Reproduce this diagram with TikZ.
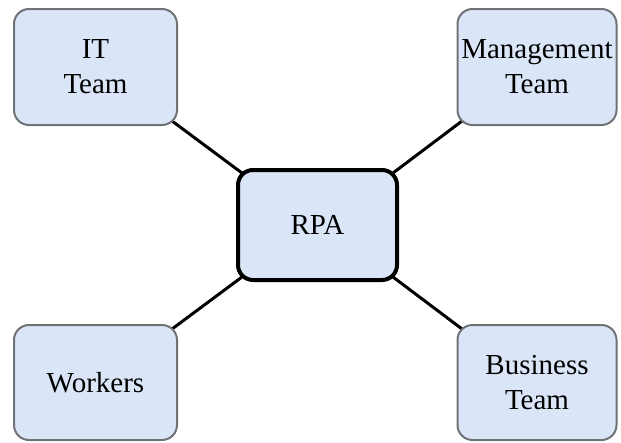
\documentclass[tikz,border=0pt]{standalone}
\usepackage{fontspec}
\setmainfont{Liberation Serif}
\definecolor{boxfill}{RGB}{218,230,248}
\definecolor{boxline}{RGB}{112,114,118}
\tikzset{
  team/.style={draw=boxline, line width=2pt, fill=boxfill, rounded corners=15pt,
    align=center, inner sep=0pt, font=\fontsize{29}{35}\selectfont},
  hub/.style={draw=black, line width=4pt, fill=boxfill, rounded corners=15pt,
    align=center, inner sep=0pt, font=\fontsize{29}{35}\selectfont},
  link/.style={draw=black, line width=3pt}
}
\begin{document}
\begin{tikzpicture}[x=1pt, y=-1pt]
  \useasboundingbox (0,0) rectangle (621,442);
  % connector ends sit just inside the rounded corners; the filled boxes hide the rest
  \coordinate (itc) at (168,118);
  \coordinate (mgc) at (466,118);
  \coordinate (wkc) at (168,332);
  \coordinate (bsc) at (466,332);
  \coordinate (r1) at (246,176);
  \coordinate (r2) at (389,176);
  \coordinate (r3) at (246,274);
  \coordinate (r4) at (389,274);
  \draw[link] (itc) -- (r1);
  \draw[link] (mgc) -- (r2);
  \draw[link] (wkc) -- (r3);
  \draw[link] (bsc) -- (r4);
  % boxes
  \node[team, minimum width=163pt, minimum height=116pt] (it) at (95.5,67) {IT\\Team};
  \node[team, minimum width=159pt, minimum height=116pt] (mg) at (537,67) {Management\\Team};
  \node[team, minimum width=163pt, minimum height=115pt] (wk) at (95.5,382.5) {Workers};
  \node[team, minimum width=159pt, minimum height=115pt] (bs) at (537,382.5) {Business\\Team};
  \node[hub, minimum width=159pt, minimum height=110pt] (rpa) at (317.5,225) {RPA};
\end{tikzpicture}
\end{document}
